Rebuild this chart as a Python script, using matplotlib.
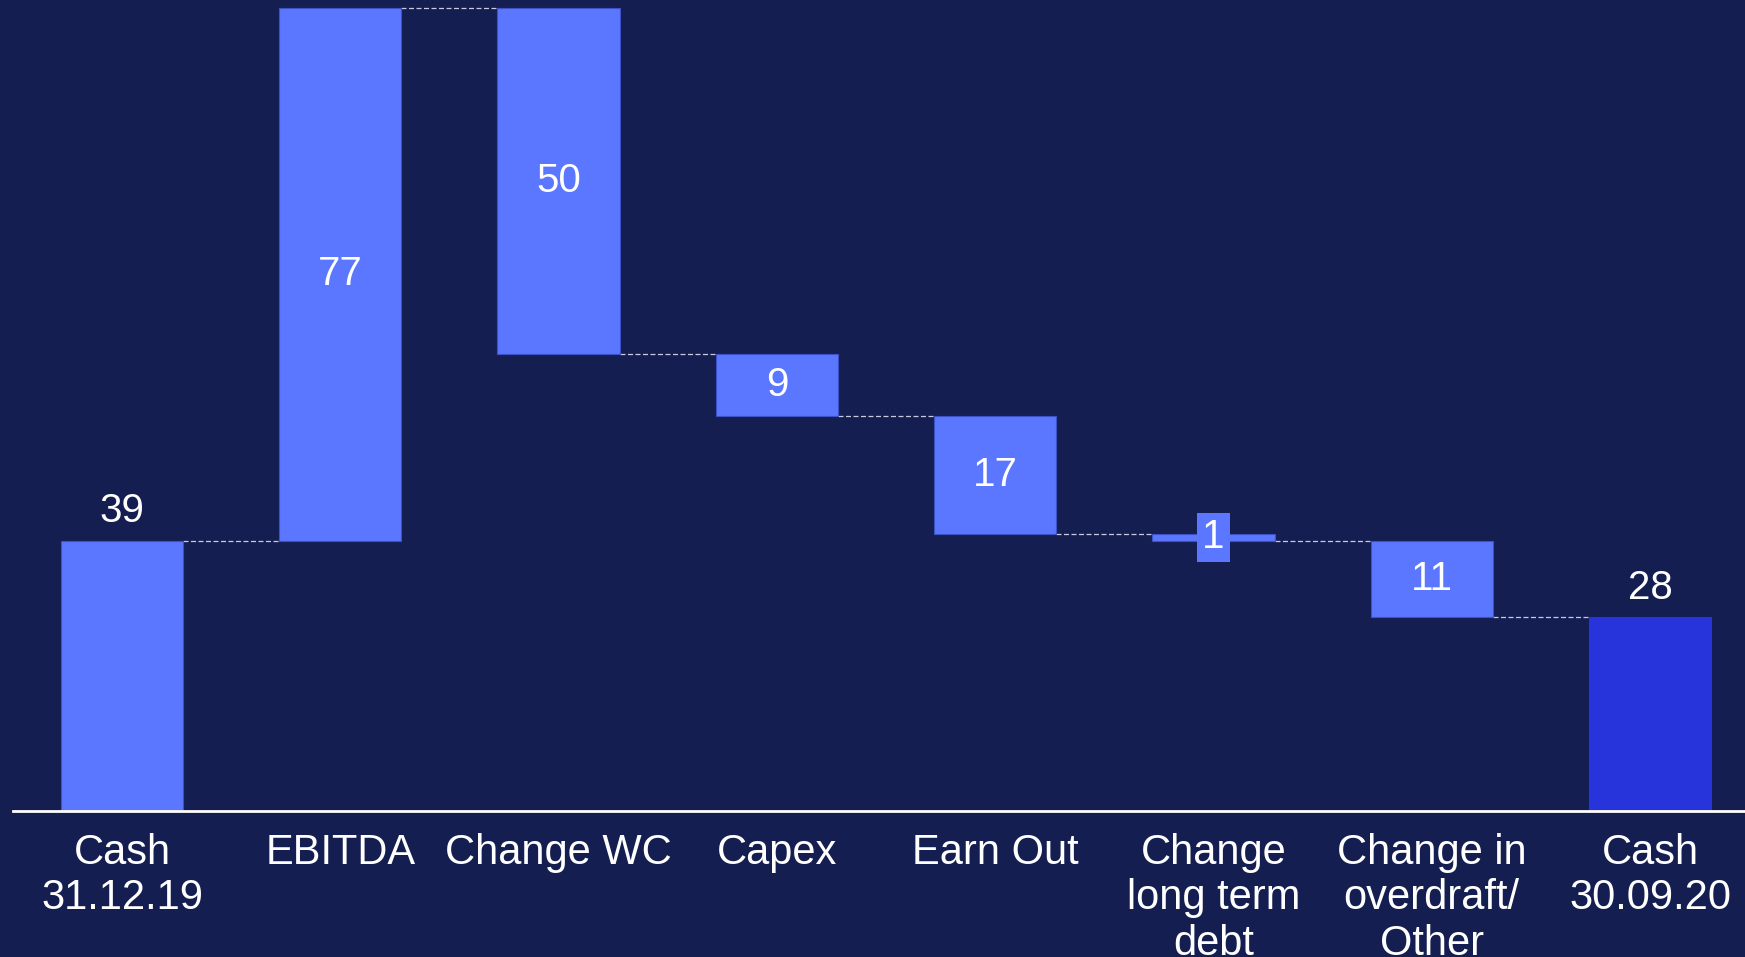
import numpy as np
import matplotlib.pyplot as plt

# cash bridge data
categories = ['Cash\n31.12.19', 'EBITDA', 'Change WC', 'Capex', 'Earn Out',
              'Change\nlong term\ndebt', 'Change in\noverdraft/\nOther', 'Cash\n30.09.20']
start_cash = 39
changes = [77, -50, -9, -17, -1, -11]
end_cash = 28

BG = '#151e50'
BAR = '#5b77ff'
BAR_END = '#2733db'
EDGE = '#3d52c4'
FONT = 'Liberation Sans'

fig = plt.figure(figsize=(17.45, 9.57), dpi=100, facecolor=BG)
ax = fig.add_axes([0, 0.1526, 1, 0.8474], facecolor=BG)

n = len(categories)
x = np.arange(n)
width = 0.56

# running totals
levels = [start_cash]
for c in changes:
    levels.append(levels[-1] + c)

bottoms = [0]
heights = [start_cash]
for i, c in enumerate(changes):
    bottoms.append(min(levels[i], levels[i + 1]))
    heights.append(abs(c))
bottoms.append(0)
heights.append(end_cash)

colors = [BAR] * (n - 1) + [BAR_END]
bars = ax.bar(x, heights, width, bottom=bottoms, color=colors, edgecolor=EDGE,
              linewidth=0.8, zorder=2)
bars[-1].set_edgecolor(BAR_END)

# dashed connectors between bars
for i in range(n - 1):
    ax.plot([x[i] + width / 2, x[i + 1] - width / 2], [levels[i], levels[i]],
            color='#c8cbe0', lw=0.9, ls=(0, (4, 2)), zorder=1)

# value labels
lbl_kw = dict(color='white', fontsize=29, family=FONT, ha='center')
ax.text(x[0], start_cash + 1.5, str(start_cash), va='bottom', **lbl_kw)
ax.text(x[-1], end_cash + 1.5, str(end_cash), va='bottom', **lbl_kw)
for i, c in enumerate(changes):
    xi = x[i + 1]
    yc = bottoms[i + 1] + heights[i + 1] / 2
    if abs(c) < 3:
        ax.text(xi, yc, str(abs(c)), va='center', **lbl_kw,
                bbox=dict(boxstyle='square,pad=0.14', fc=BAR, ec='none'))
    else:
        ax.text(xi, yc, str(abs(c)), va='center', **lbl_kw)

# baseline
ax.plot([-0.5, n], [0, 0], color='white', lw=2, zorder=3, clip_on=False)

ax.set_xlim(-0.559, 7.435)
ax.set_ylim(0, 117.1)
ax.set_xticks(x)
ax.set_xticklabels(categories, color='white', fontsize=30, family=FONT,
                   linespacing=1.17)
ax.tick_params(axis='x', length=0, pad=16)
ax.set_yticks([])
for s in ax.spines.values():
    s.set_visible(False)

fig.savefig('out.png', dpi=100, facecolor=BG)
